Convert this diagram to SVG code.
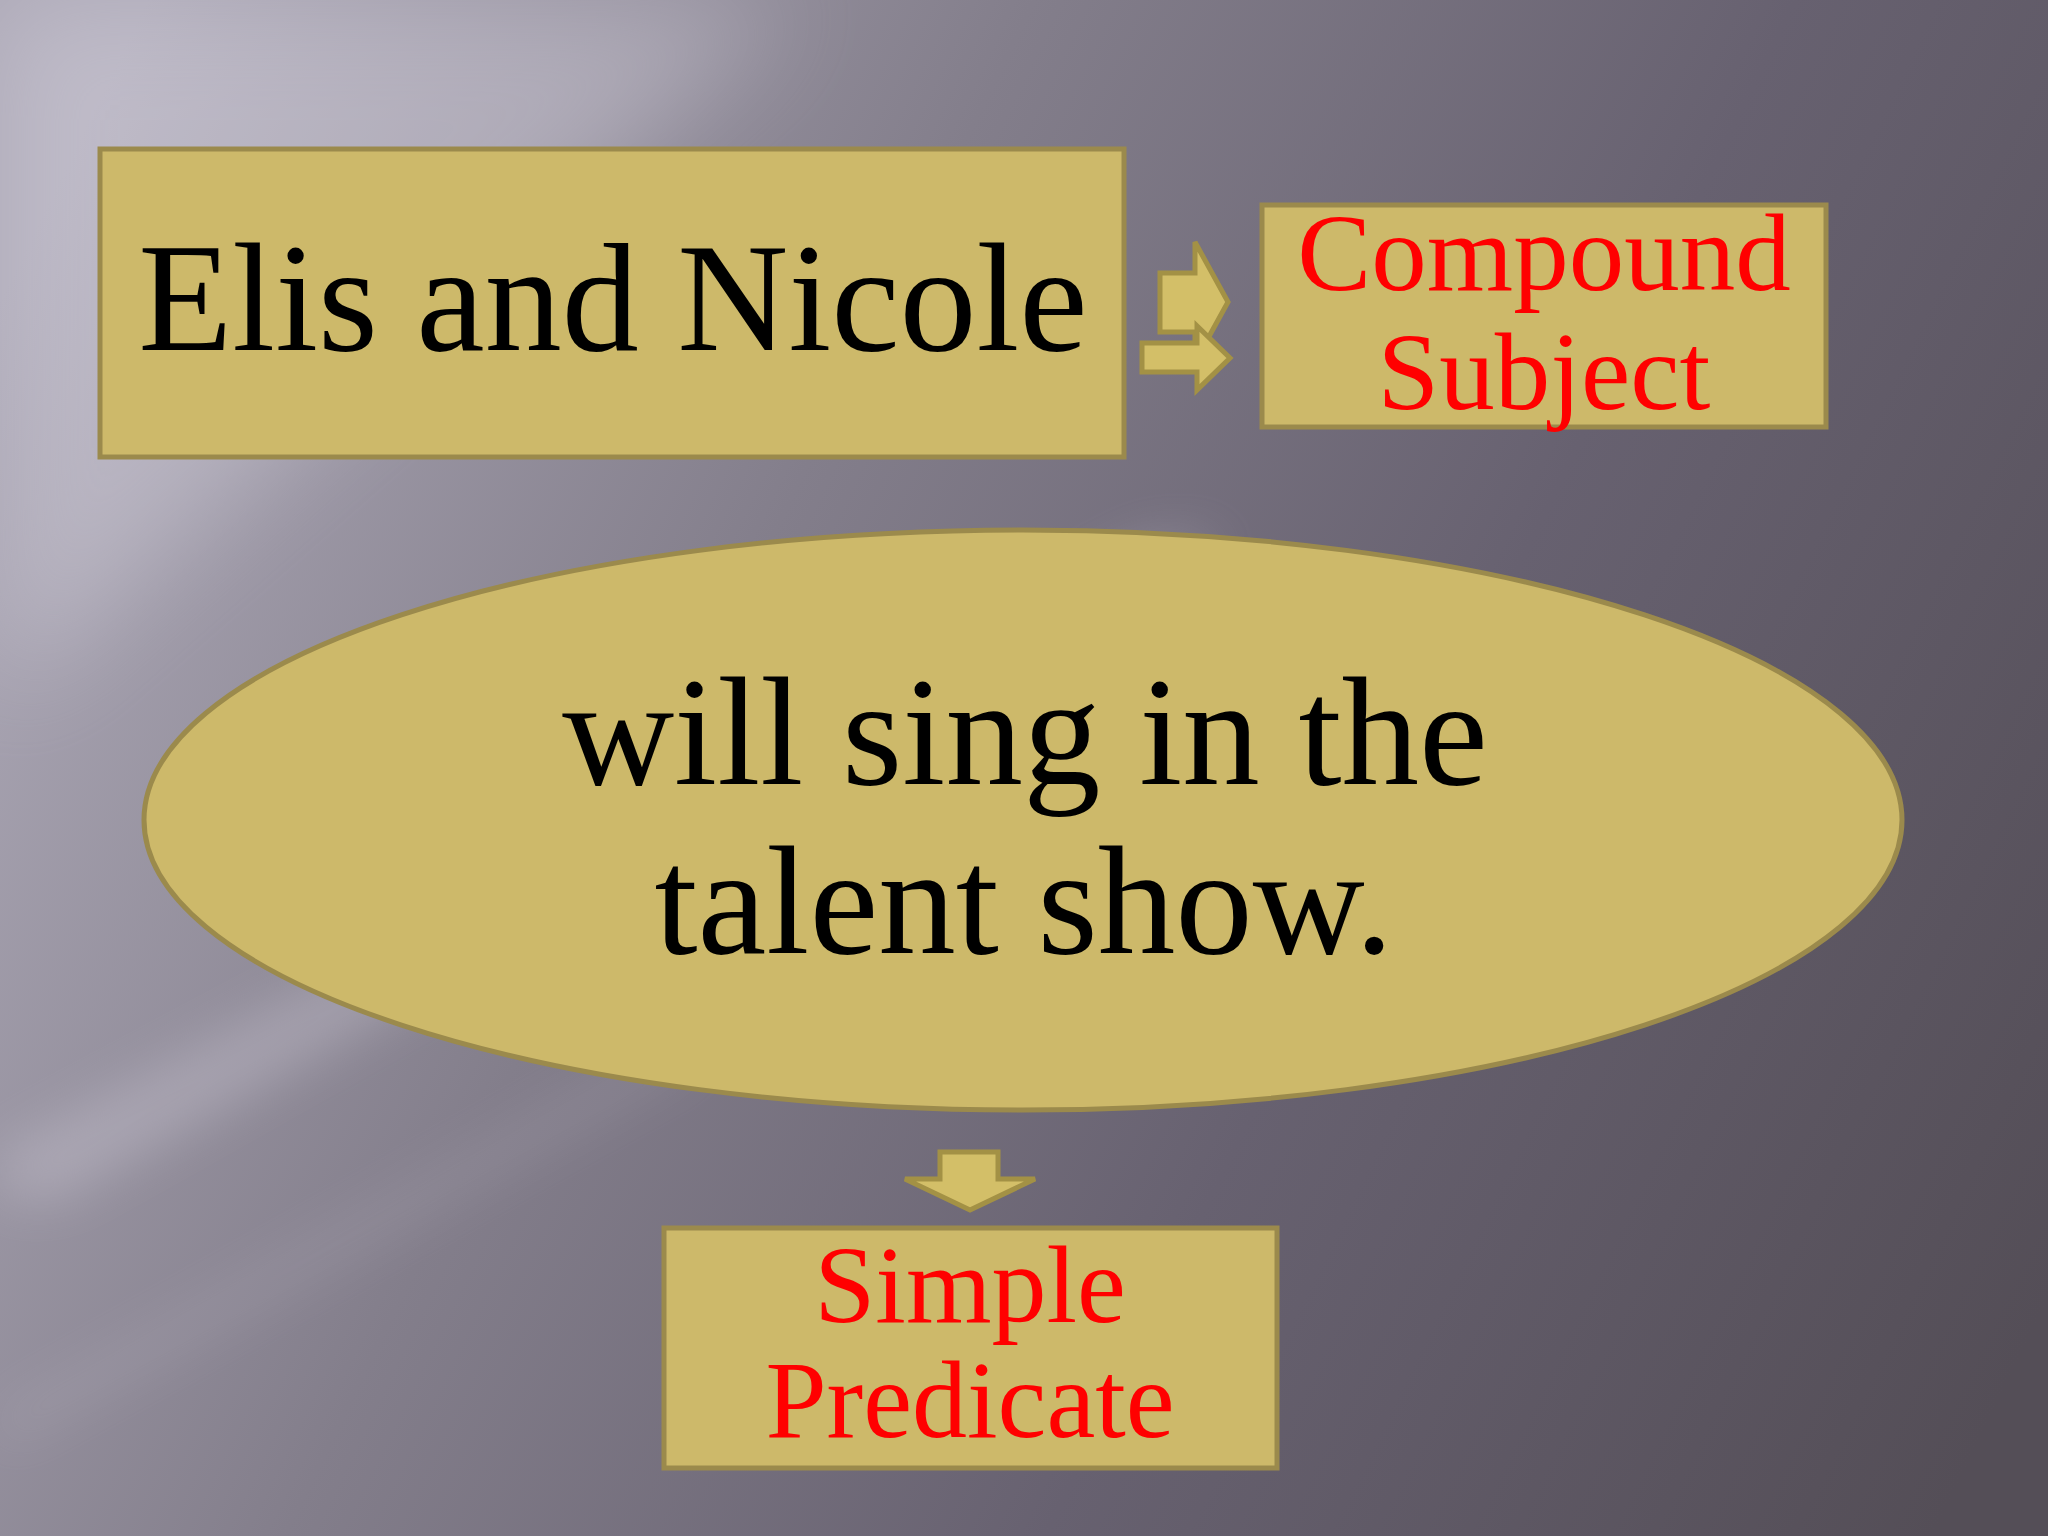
<svg xmlns="http://www.w3.org/2000/svg" width="2048" height="1536" viewBox="0 0 2048 1536">
<style>
.box{fill:#cdb96a;stroke:#9b8a4c;stroke-width:5}
.arrow{fill:#d3bf68;stroke:#a39145;stroke-width:5;stroke-linejoin:miter}
.t{font-family:"Liberation Serif","DejaVu Serif",serif;text-anchor:middle}
.black{fill:#000}
.red{fill:#ff0000}
</style>
<defs>
<linearGradient id="bg" gradientUnits="userSpaceOnUse" x1="0" y1="300" x2="2048" y2="1300">
<stop offset="0" stop-color="#aeaab8"/>
<stop offset="0.35" stop-color="#837e8b"/>
<stop offset="0.65" stop-color="#676170"/>
<stop offset="1" stop-color="#544e57"/>
</linearGradient>
<filter id="blur" x="-50%" y="-50%" width="200%" height="200%"><feGaussianBlur stdDeviation="50"/></filter>
<filter id="blur2" x="-50%" y="-50%" width="200%" height="200%"><feGaussianBlur stdDeviation="25"/></filter>
</defs>
<rect width="2048" height="1536" fill="url(#bg)"/>
<g opacity="0.3">
<polygon points="0,0 800,0 0,700" fill="#e4e1ec" filter="url(#blur)"/>
<polygon points="1150,540 1230,540 60,1200 0,1200 0,1150" fill="#d8d4e0" filter="url(#blur2)"/>
</g>
<g opacity="0.15">
<polygon points="650,1050 720,1050 0,1450 0,1410" fill="#d0ccd8" filter="url(#blur2)"/>
</g>
<g id="connectors">
<polygon class="arrow" points="1160,273 1195,273 1195,242 1228,302 1195,362 1195,332 1160,332"/>
<polygon class="arrow" points="1142,343 1197,343 1197,326 1230,358 1197,390 1197,372 1142,372"/>
<polygon class="arrow" points="940,1152 998,1152 998,1179 1035,1179 970,1210 905,1179 940,1179"/>
</g>
<g id="node-subject">
<rect class="box" x="100" y="149" width="1024" height="308"/>
<text class="t black" x="613" y="350" font-size="154">Elis and Nicole</text>
</g>
<g id="node-compound">
<rect class="box" x="1262" y="205" width="564" height="222"/>
<text class="t red" x="1544" y="290" font-size="111">Compound</text>
<text class="t red" x="1544" y="409" font-size="111">Subject</text>
</g>
<g id="node-predicate">
<ellipse class="box" cx="1023" cy="820" rx="879" ry="290"/>
<text class="t black" x="1025" y="784" font-size="155">will sing in the</text>
<text class="t black" x="1024" y="953" font-size="155">talent show.</text>
</g>
<g id="node-simple">
<rect class="box" x="664" y="1228" width="613" height="240"/>
<text class="t red" x="970" y="1322" font-size="110">Simple</text>
<text class="t red" x="970" y="1437" font-size="110">Predicate</text>
</g>
</svg>
